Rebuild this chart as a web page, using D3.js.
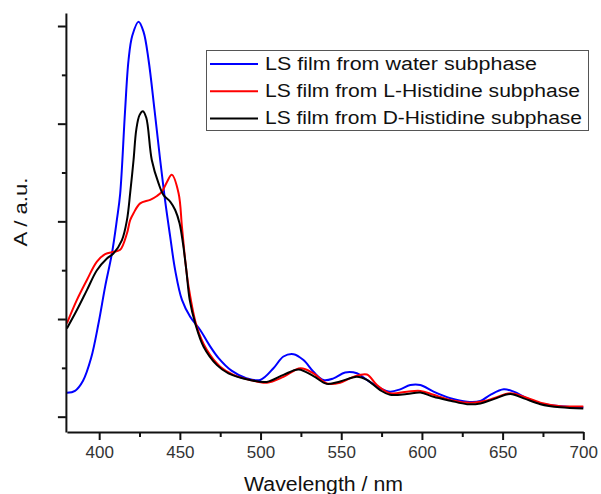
<!DOCTYPE html>
<html lang="en">
<head>
<meta charset="UTF-8">
<title>UV-Vis spectra of LS films</title>
<script src="https://d3js.org/d3.v7.min.js"></script>
<style>
    body { margin: 0; background: #fff; }
    text { font-family: "Liberation Sans", Arial, sans-serif; }
</style>
</head>
<body>
<script>
// absorbance curves (wavelength nm, A in a.u.)
const waterWl = [380, 385, 390, 395, 399.6, 403.7, 407.9, 411, 413, 416, 418.2, 420.5, 424.4, 427.5, 430.6, 434.3, 437.8, 440.8, 444, 447.1, 451.3, 456.4, 462.6, 468, 474, 482, 491.5, 499.8, 508, 514.2, 520.4, 526.6, 532.8, 539, 545.2, 552.4, 559.7, 565.9, 574.1, 580.3, 586.5, 592.8, 599, 607.2, 617.6, 628, 636.2, 642.4, 650.7, 656.9, 665.2, 673.4, 685.8, 700];
const waterA  = [0.061, 0.066, 0.092, 0.150, 0.239, 0.333, 0.418, 0.505, 0.57, 0.78, 0.913, 0.975, 1.011, 0.985, 0.913, 0.785, 0.657, 0.555, 0.461, 0.375, 0.299, 0.256, 0.222, 0.185, 0.150, 0.118, 0.098, 0.094, 0.124, 0.154, 0.160, 0.145, 0.115, 0.094, 0.098, 0.113, 0.111, 0.094, 0.073, 0.064, 0.070, 0.081, 0.081, 0.064, 0.047, 0.038, 0.040, 0.056, 0.070, 0.064, 0.047, 0.034, 0.027, 0.024];

const lHisWl = [380, 386.2, 392.4, 398.6, 403.7, 408.9, 413, 417.2, 419.2, 421.3, 425.4, 431.6, 435.8, 438.9, 442, 445, 449.2, 451.3, 453.3, 455.4, 460.5, 466.7, 475, 483.2, 493.5, 503.9, 514.2, 524.7, 532.8, 541.1, 549.3, 557.6, 565.9, 572.1, 580.3, 590.7, 599, 607.2, 617.6, 628, 636.2, 644.5, 654.8, 663.1, 673.4, 685.8, 700];
const lHisA  = [0.239, 0.299, 0.350, 0.397, 0.416, 0.422, 0.427, 0.469, 0.503, 0.521, 0.546, 0.555, 0.565, 0.576, 0.601, 0.619, 0.572, 0.486, 0.401, 0.333, 0.230, 0.171, 0.128, 0.107, 0.094, 0.087, 0.102, 0.124, 0.111, 0.085, 0.087, 0.102, 0.108, 0.081, 0.060, 0.064, 0.066, 0.056, 0.043, 0.036, 0.038, 0.047, 0.060, 0.051, 0.036, 0.027, 0.026];

const dHisWl = [380, 386.2, 392.4, 398.6, 404.8, 408.9, 414.1, 417.2, 419.2, 421.3, 423, 425, 427.1, 429.2, 432.6, 436.8, 439.9, 444.1, 447.1, 449.8, 451.9, 454, 456.1, 459.5, 464.7, 473, 480.1, 493.5, 503.9, 514.2, 523.6, 532.8, 541.1, 549.3, 559.7, 565.9, 574.1, 580.3, 590.7, 599, 607.2, 617.6, 628, 636.2, 644.5, 654.8, 663.1, 673.4, 685.8, 700];
const dHisA  = [0.226, 0.273, 0.324, 0.375, 0.405, 0.418, 0.452, 0.503, 0.572, 0.657, 0.735, 0.772, 0.782, 0.765, 0.657, 0.597, 0.567, 0.550, 0.529, 0.495, 0.444, 0.375, 0.299, 0.239, 0.179, 0.132, 0.111, 0.094, 0.089, 0.107, 0.121, 0.104, 0.084, 0.090, 0.102, 0.094, 0.068, 0.056, 0.058, 0.062, 0.051, 0.041, 0.032, 0.034, 0.045, 0.058, 0.047, 0.032, 0.024, 0.021];

const seriesNames = ["LS film from water subphase", "LS film from L-Histidine subphase", "LS film from D-Histidine subphase"];
const seriesColors = ["#0000ff", "#ff0000", "#000000"];
const xMajorTicks = [400, 450, 500, 550, 600, 650, 700];
const xMinorTicks = [425, 475, 525, 575, 625, 675];
const yMajorTicks = [0, 0.25, 0.5, 0.75, 1];
const yMinorTicks = [0.125, 0.375, 0.625, 0.875];

const width = 601, height = 494;

const x = d3.scaleLinear().domain([380, 700]).range([66.9, 583.3]);
const y = d3.scaleLinear().domain([-0.0392, 1.0333]).range([432, 13]);

const svg = d3.select("body").append("svg")
    .attr("width", width)
    .attr("height", height);

const series = [
    { wl: waterWl, a: waterA },
    { wl: lHisWl, a: lHisA },
    { wl: dHisWl, a: dHisA }
];

const line = d3.line()
    .x(d => x(d[0]))
    .y(d => y(d[1]))
    .curve(d3.curveCatmullRom.alpha(0.5));

series.forEach((s, i) => {
    svg.append("path")
        .datum(s.wl.map((w, j) => [w, s.a[j]]))
        .attr("fill", "none")
        .attr("stroke", seriesColors[i])
        .attr("stroke-width", 2)
        .attr("stroke-linejoin", "round")
        .attr("d", line);
});

// x axis
const xAxis = svg.append("g")
    .attr("transform", `translate(0,${y.range()[0]})`)
    .call(d3.axisBottom(x).tickValues(xMajorTicks).tickSize(8).tickSizeOuter(0).tickPadding(6));
svg.append("g")
    .attr("transform", `translate(0,${y.range()[0]})`)
    .call(d3.axisBottom(x).tickValues(xMinorTicks).tickSize(5).tickFormat(""))
    .select(".domain").remove();

// y axis, no labels
svg.append("g")
    .attr("transform", `translate(${x.range()[0] - 1},0)`)
    .call(d3.axisLeft(y).tickValues(yMajorTicks).tickSize(8).tickSizeOuter(0).tickFormat(""));
svg.append("g")
    .attr("transform", `translate(${x.range()[0] - 1},0)`)
    .call(d3.axisLeft(y).tickValues(yMinorTicks).tickSize(4).tickFormat(""))
    .select(".domain").remove();

svg.selectAll(".domain").attr("stroke", "#111").attr("stroke-width", 2);
svg.selectAll(".tick line").attr("stroke", "#111").attr("stroke-width", 2);
xAxis.selectAll(".tick text")
    .attr("font-size", 17)
    .attr("font-family", "Liberation Sans, Arial, sans-serif")
    .attr("fill", "#333");

// axis titles
svg.append("text")
    .attr("x", 323.5)
    .attr("y", 491)
    .attr("text-anchor", "middle")
    .attr("font-size", 20)
    .attr("textLength", 159)
    .attr("lengthAdjust", "spacingAndGlyphs")
    .attr("fill", "#111")
    .text("Wavelength / nm");

svg.append("text")
    .attr("transform", "translate(27,212) rotate(-90)")
    .attr("text-anchor", "middle")
    .attr("font-size", 19)
    .attr("textLength", 69)
    .attr("lengthAdjust", "spacingAndGlyphs")
    .attr("fill", "#111")
    .text("A / a.u.");

// legend
const legend = svg.append("g");
legend.append("rect")
    .attr("x", 206.5).attr("y", 50.5)
    .attr("width", 382).attr("height", 80)
    .attr("fill", "#fff")
    .attr("stroke", "#555")
    .attr("stroke-width", 1);

const textWidths = [272, 315, 317];
seriesNames.forEach((name, i) => {
    const ly = 64 + i * 27.2;
    legend.append("line")
        .attr("x1", 210).attr("x2", 258)
        .attr("y1", ly).attr("y2", ly)
        .attr("stroke", seriesColors[i])
        .attr("stroke-width", 2);
    legend.append("text")
        .attr("x", 265)
        .attr("y", ly + 6)
        .attr("font-size", 18)
        .attr("textLength", textWidths[i])
        .attr("lengthAdjust", "spacingAndGlyphs")
        .attr("fill", "#111")
        .text(name);
});
</script>
</body>
</html>
